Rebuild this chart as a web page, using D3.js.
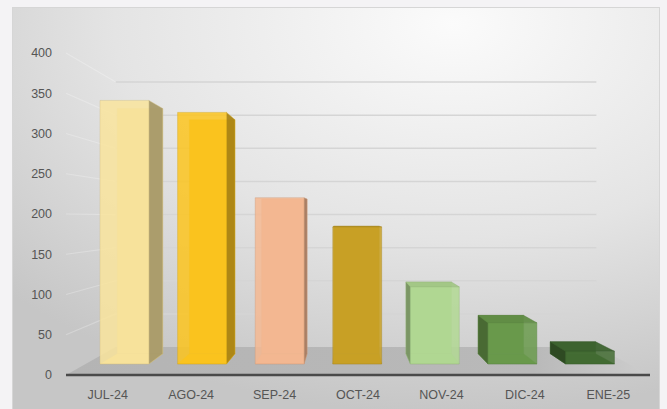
<!DOCTYPE html>
<html lang="es">
<head>
  <meta charset="UTF-8">
  <title>Gráfico 3D por mes</title>
  <script src="https://d3js.org/d3.v7.min.js"></script>
  <style>
    body { margin: 0; background: #f4f3f5; }
    svg { display: block; }
    .tick-label, .cat-label {
      font: 12.5px "Liberation Sans", Arial, sans-serif;
      fill: #555555;
    }
  </style>
</head>
<body>
  <script>
    // datos
    const categories = ["JUL-24", "AGO-24", "SEP-24", "OCT-24", "NOV-24", "DIC-24", "ENE-25"];
    const values = [352, 336, 222, 183, 103, 55, 17];
    const yTicks = [0, 50, 100, 150, 200, 250, 300, 350, 400];
    const barColors = ["#f9e49c", "#fbc41f", "#f4b892", "#c9a126", "#b1d893", "#6a9a4c", "#436c33"];

    const W = 667, H = 409;

    // perspectiva: punto de fuga y profundidades (1 = plano frontal)
    const vx = 347, vy = 217;
    const sBack = 0.823;   // pared del fondo
    const sBarF = 0.93;    // cara frontal de las barras
    const sBarB = 0.865;   // cara trasera de las barras

    const P = (X, Y, s) => [vx + s * (X - vx), vy + s * (Y - vy)];

    // escalas en el plano frontal
    const x = d3.scaleBand().domain(categories).range([66, 650])
      .paddingInner(0.37).paddingOuter(0.185);
    const y = d3.scaleLinear().domain([0, 400]).range([375, 53]);

    const svg = d3.select("body").append("svg")
      .attr("width", W).attr("height", H);

    const defs = svg.append("defs");
    const bg = defs.append("radialGradient").attr("id", "bg")
      .attr("cx", "68%").attr("cy", "4%").attr("r", "95%");
    bg.append("stop").attr("offset", "0%").attr("stop-color", "#fbfbfb");
    bg.append("stop").attr("offset", "55%").attr("stop-color", "#e4e4e4");
    bg.append("stop").attr("offset", "100%").attr("stop-color", "#c6c6c6");

    const fl = defs.append("linearGradient").attr("id", "floor")
      .attr("x1", "0%").attr("x2", "100%");
    fl.append("stop").attr("offset", "0%").attr("stop-color", "#b4b4b4");
    fl.append("stop").attr("offset", "80%").attr("stop-color", "#b9b9b9");
    fl.append("stop").attr("offset", "100%").attr("stop-color", "#cdcdcd");

    // área del gráfico
    svg.append("rect")
      .attr("x", 12.5).attr("y", 7.5).attr("width", 647).attr("height", 410)
      .attr("fill", "url(#bg)").attr("stroke", "#d6d6d6");

    const line = d3.line();
    const [xL, xR] = x.range();

    // líneas de la pared lateral
    svg.append("g").selectAll("path")
      .data(yTicks.filter(d => d > 0))
      .join("path")
      .attr("d", d => line([P(xL, y(d), 1), P(xL, y(d), sBack)]))
      .attr("stroke", "#ffffff").attr("stroke-opacity", 0.25)
      .attr("stroke-width", 1.2).attr("fill", "none");

    // cuadrícula de la pared del fondo
    svg.append("g").selectAll("path")
      .data(yTicks.filter(d => d > 0))
      .join("path")
      .attr("d", d => line([P(xL, y(d), sBack), P(xR, y(d), sBack)]))
      .attr("stroke", "#d5d5d5").attr("stroke-width", 1.5).attr("fill", "none");

    // suelo
    svg.append("path")
      .attr("d", line([P(xL, y(0), 1), P(xR, y(0), 1), P(xR, y(0), sBack), P(xL, y(0), sBack)]) + "Z")
      .attr("fill", "url(#floor)");

    // barras 3D
    const bars = svg.append("g");
    categories.forEach((c, i) => {
      const x0 = x(c), x1 = x0 + x.bandwidth();
      const y0 = y(0), y1 = y(values[i]);
      const col = d3.color(barColors[i]);
      const side = col.darker(1.1).formatHex();
      const top = col.darker(0.25).formatHex();
      const edge = col.darker(0.5).formatHex();
      const inner = col.darker(0.15).formatHex();
      const g = bars.append("g");

      const face = (pts, fill, op, so) => g.append("path")
        .attr("d", line(pts) + "Z")
        .attr("fill", fill).attr("fill-opacity", op)
        .attr("stroke", edge).attr("stroke-opacity", so).attr("stroke-width", 0.8);

      // cara trasera e inferior (se ven por transparencia)
      face([P(x0, y1, sBarB), P(x1, y1, sBarB), P(x1, y0, sBarB), P(x0, y0, sBarB)], inner, 1, 0.35);
      face([P(x0, y0, sBarF), P(x1, y0, sBarF), P(x1, y0, sBarB), P(x0, y0, sBarB)], inner, 1, 0.35);

      if (x1 < vx) {
        face([P(x1, y1, sBarF), P(x1, y1, sBarB), P(x1, y0, sBarB), P(x1, y0, sBarF)], side, 0.95, 0.5);
      }
      if (x0 > vx) {
        face([P(x0, y1, sBarF), P(x0, y1, sBarB), P(x0, y0, sBarB), P(x0, y0, sBarF)], side, 0.95, 0.5);
      }
      if (y1 > vy) {
        face([P(x0, y1, sBarF), P(x1, y1, sBarF), P(x1, y1, sBarB), P(x0, y1, sBarB)], top, 0.95, 0.5);
      }
      face([P(x0, y1, sBarF), P(x1, y1, sBarF), P(x1, y0, sBarF), P(x0, y0, sBarF)], barColors[i], 0.85, 0.5);
    });

    // eje horizontal
    svg.append("path")
      .attr("d", line([P(xL, y(0), 1), P(xR, y(0), 1)]))
      .attr("stroke", "#4a4a4a").attr("stroke-width", 2.5).attr("fill", "none");

    // etiquetas del eje Y
    svg.append("g").selectAll("text")
      .data(yTicks)
      .join("text")
      .attr("class", "tick-label")
      .attr("x", 52).attr("y", d => y(d))
      .attr("dy", "0.35em")
      .attr("text-anchor", "end")
      .text(d => d);

    // etiquetas de categorías
    svg.append("g").selectAll("text")
      .data(categories)
      .join("text")
      .attr("class", "cat-label")
      .attr("x", d => x(d) + x.bandwidth() / 2)
      .attr("y", 395).attr("dy", "0.35em")
      .attr("text-anchor", "middle")
      .text(d => d);
  </script>
</body>
</html>
